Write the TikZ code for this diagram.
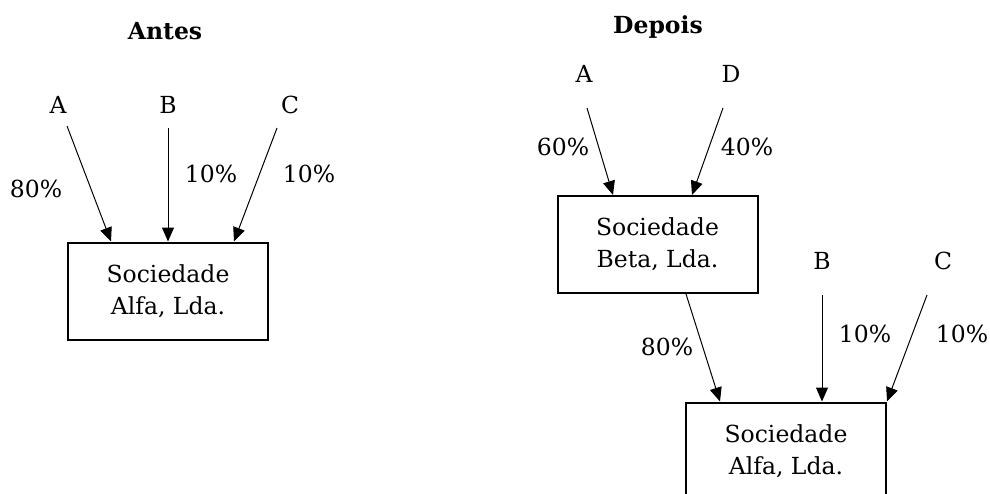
\documentclass[tikz,border=0pt]{standalone}
\usepackage{fontspec}
\setmainfont{DejaVu Serif}
\usetikzlibrary{arrows.meta}
\begin{document}
\begin{tikzpicture}[x=1pt,y=-1pt,
  lbl/.style={text=drawColor,anchor=base,inner sep=0pt,outer sep=0pt,font=\fontsize{23.5}{32}\selectfont},
  ttl/.style={lbl,font=\fontsize{23.5}{32}\selectfont\bfseries},
  soc/.style={draw=drawColor,line width=2pt,minimum width=200pt,minimum height=97pt,inner sep=0pt,align=center,font=\fontsize{23.5}{32}\selectfont},
  arr/.style={draw=drawColor,line width=1pt,-{Triangle[length=14pt,width=12pt]}}]
\definecolor{drawColor}{RGB}{0,0,0}
\path[use as bounding box] (0,0) rectangle (990,493);
\begin{scope}
\path[clip] (0,0) rectangle (990,493);

% Antes
\node[ttl] (antes) at (165,39) {Antes};

\node[lbl] (a) at ( 58,113) {A};
\node[lbl] (b) at (168,113) {B};
\node[lbl] (c) at (290,113) {C};

\node[soc] (alfa) at (168,291) {Sociedade\\Alfa, Lda.};

\coordinate (sa) at ( 67,126);
\coordinate (sb) at (168,128);
\coordinate (sc) at (277,128);

\path[arr] (sa) -- ([xshift=44pt]alfa.north west);
\path[arr] (sb) -- (alfa.north);
\path[arr] (sc) -- ([xshift=-35pt]alfa.north east);

\node[lbl] (pa) at ( 36,197) {80\%};
\node[lbl] (pb) at (211,182) {10\%};
\node[lbl] (pc) at (309,182) {10\%};

% Depois
\node[ttl] (depois) at (658,33) {Depois};

\node[lbl] (a2) at (584,82) {A};
\node[lbl] (d2) at (731,82) {D};

\node[soc] (beta) at (657.5,244.5) {Sociedade\\Beta, Lda.};

\coordinate (sa2) at (587,108);
\coordinate (sd2) at (723,108);

\path[arr] (sa2) -- ([xshift=-44.5pt]beta.north);
\path[arr] (sd2) -- ([xshift=34.5pt]beta.north);

\node[lbl] (pa2) at (563,155) {60\%};
\node[lbl] (pd2) at (747,155) {40\%};

\node[lbl] (b2) at (822,269) {B};
\node[lbl] (c2) at (943,269) {C};

\node[soc] (alfa2) at (786,451) {Sociedade\\Alfa, Lda.};

\coordinate (sb2) at (822,295);
\coordinate (sc2) at (927,295);

\path[arr] ([xshift=28.5pt]beta.south) -- ([xshift=-66pt]alfa2.north);
\path[arr] (sb2) -- ([xshift=36pt]alfa2.north);
\path[arr] (sc2) -- (alfa2.north east);

\node[lbl] (pbeta) at (667,355) {80\%};
\node[lbl] (pb2) at (865,342) {10\%};
\node[lbl] (pc2) at (962,342) {10\%};
\end{scope}
\end{tikzpicture}
\end{document}
